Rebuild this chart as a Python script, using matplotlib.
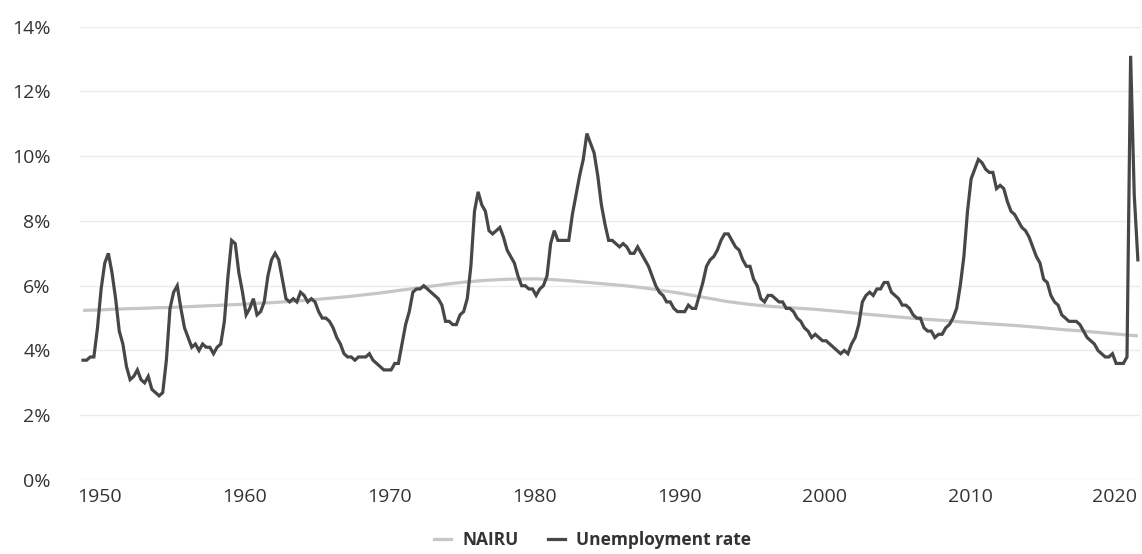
import matplotlib
matplotlib.use("Agg")
import matplotlib.pyplot as plt
import numpy as np
from matplotlib.lines import Line2D

plt.rcParams['font.family'] = ['Open Sans', 'DejaVu Sans']

# Quarterly unemployment rate (%), 1948Q1 - 2020Q4
unemployment = [
    3.7, 3.7, 3.8, 3.8,   # 1948
    4.7, 5.9, 6.7, 7.0,   # 1949
    6.4, 5.6, 4.6, 4.2,   # 1950
    3.5, 3.1, 3.2, 3.4,   # 1951
    3.1, 3.0, 3.2, 2.8,   # 1952
    2.7, 2.6, 2.7, 3.7,   # 1953
    5.3, 5.8, 6.0, 5.3,   # 1954
    4.7, 4.4, 4.1, 4.2,   # 1955
    4.0, 4.2, 4.1, 4.1,   # 1956
    3.9, 4.1, 4.2, 4.9,   # 1957
    6.3, 7.4, 7.3, 6.4,   # 1958
    5.8, 5.1, 5.3, 5.6,   # 1959
    5.1, 5.2, 5.5, 6.3,   # 1960
    6.8, 7.0, 6.8, 6.2,   # 1961
    5.6, 5.5, 5.6, 5.5,   # 1962
    5.8, 5.7, 5.5, 5.6,   # 1963
    5.5, 5.2, 5.0, 5.0,   # 1964
    4.9, 4.7, 4.4, 4.2,   # 1965
    3.9, 3.8, 3.8, 3.7,   # 1966
    3.8, 3.8, 3.8, 3.9,   # 1967
    3.7, 3.6, 3.5, 3.4,   # 1968
    3.4, 3.4, 3.6, 3.6,   # 1969
    4.2, 4.8, 5.2, 5.8,   # 1970
    5.9, 5.9, 6.0, 5.9,   # 1971
    5.8, 5.7, 5.6, 5.4,   # 1972
    4.9, 4.9, 4.8, 4.8,   # 1973
    5.1, 5.2, 5.6, 6.6,   # 1974
    8.3, 8.9, 8.5, 8.3,   # 1975
    7.7, 7.6, 7.7, 7.8,   # 1976
    7.5, 7.1, 6.9, 6.7,   # 1977
    6.3, 6.0, 6.0, 5.9,   # 1978
    5.9, 5.7, 5.9, 6.0,   # 1979
    6.3, 7.3, 7.7, 7.4,   # 1980
    7.4, 7.4, 7.4, 8.2,   # 1981
    8.8, 9.4, 9.9, 10.7,  # 1982
    10.4, 10.1, 9.4, 8.5, # 1983
    7.9, 7.4, 7.4, 7.3,   # 1984
    7.2, 7.3, 7.2, 7.0,   # 1985
    7.0, 7.2, 7.0, 6.8,   # 1986
    6.6, 6.3, 6.0, 5.8,   # 1987
    5.7, 5.5, 5.5, 5.3,   # 1988
    5.2, 5.2, 5.2, 5.4,   # 1989
    5.3, 5.3, 5.7, 6.1,   # 1990
    6.6, 6.8, 6.9, 7.1,   # 1991
    7.4, 7.6, 7.6, 7.4,   # 1992
    7.2, 7.1, 6.8, 6.6,   # 1993
    6.6, 6.2, 6.0, 5.6,   # 1994
    5.5, 5.7, 5.7, 5.6,   # 1995
    5.5, 5.5, 5.3, 5.3,   # 1996
    5.2, 5.0, 4.9, 4.7,   # 1997
    4.6, 4.4, 4.5, 4.4,   # 1998
    4.3, 4.3, 4.2, 4.1,   # 1999
    4.0, 3.9, 4.0, 3.9,   # 2000
    4.2, 4.4, 4.8, 5.5,   # 2001
    5.7, 5.8, 5.7, 5.9,   # 2002
    5.9, 6.1, 6.1, 5.8,   # 2003
    5.7, 5.6, 5.4, 5.4,   # 2004
    5.3, 5.1, 5.0, 5.0,   # 2005
    4.7, 4.6, 4.6, 4.4,   # 2006
    4.5, 4.5, 4.7, 4.8,   # 2007
    5.0, 5.3, 6.0, 6.9,   # 2008
    8.3, 9.3, 9.6, 9.9,   # 2009
    9.8, 9.6, 9.5, 9.5,   # 2010
    9.0, 9.1, 9.0, 8.6,   # 2011
    8.3, 8.2, 8.0, 7.8,   # 2012
    7.7, 7.5, 7.2, 6.9,   # 2013
    6.7, 6.2, 6.1, 5.7,   # 2014
    5.5, 5.4, 5.1, 5.0,   # 2015
    4.9, 4.9, 4.9, 4.8,   # 2016
    4.6, 4.4, 4.3, 4.2,   # 2017
    4.0, 3.9, 3.8, 3.8,   # 2018
    3.9, 3.6, 3.6, 3.6,   # 2019
    3.8, 13.1, 8.8, 6.8,  # 2020
]

# Annual NAIRU estimate (%), 1948 - 2020
nairu = [
    5.24, 5.25, 5.27, 5.29, 5.30, 5.32, 5.33, 5.35, 5.37, 5.39,   # 1948-1957
    5.41, 5.43, 5.46, 5.48, 5.51, 5.54, 5.58, 5.62, 5.66, 5.71,   # 1958-1967
    5.76, 5.82, 5.88, 5.94, 6.00, 6.06, 6.11, 6.15, 6.18, 6.20,   # 1968-1977
    6.21, 6.21, 6.19, 6.16, 6.12, 6.08, 6.04, 6.00, 5.95, 5.89,   # 1978-1987
    5.82, 5.75, 5.67, 5.59, 5.51, 5.45, 5.40, 5.36, 5.33, 5.30,   # 1988-1997
    5.27, 5.23, 5.19, 5.14, 5.10, 5.06, 5.02, 4.98, 4.95, 4.92,   # 1998-2007
    4.88, 4.85, 4.82, 4.79, 4.76, 4.72, 4.68, 4.64, 4.61, 4.57,   # 2008-2017
    4.53, 4.49, 4.45,                                              # 2018-2020
]

tick_years = [1950, 1960, 1970, 1980, 1990, 2000, 2010, 2020]
y_ticks = [0, 2, 4, 6, 8, 10, 12, 14]

start_year = 1948
end_pos = 2020.75
unemp_x = start_year + np.arange(len(unemployment)) / 4.0
nairu_x = np.linspace(start_year, end_pos, len(nairu))

W, H = 1142, 554
fig = plt.figure(figsize=(W / 100, H / 100), dpi=100)
ax = fig.add_axes([80 / W, 74 / H, 1060 / W, 453.3 / H])

dark = '#474747'
light = '#c6c6c6'

ax.plot(nairu_x, nairu, color=light, lw=2.3, solid_capstyle='butt', zorder=2)
ax.plot(unemp_x, unemployment, color=dark, lw=2.3, solid_joinstyle='miter', zorder=3)

px_per_year = 14.5
ax.set_xlim(start_year - 3 / px_per_year, start_year + 1057 / px_per_year)
ax.set_ylim(0, 14)

label_offset = 0.83
ax.set_xticks([y - label_offset for y in tick_years])
ax.set_xticklabels([str(y) for y in tick_years])
ax.set_yticks(y_ticks)
ax.set_yticklabels([f"{v}%" for v in y_ticks])

ax.grid(axis='y', color='#ebebeb', lw=1.0)
ax.set_axisbelow(True)
for s in ax.spines.values():
    s.set_visible(False)
ax.tick_params(axis='both', length=0, labelsize=14, labelcolor='#333333')
ax.tick_params(axis='x', pad=6)
ax.tick_params(axis='y', pad=21)

handles = [Line2D([], [], color=light, lw=2.3),
           Line2D([], [], color=dark, lw=2.3)]
leg = fig.legend(handles, ['NAIRU', 'Unemployment rate'], loc='center',
                 bbox_to_anchor=(592.5 / W, 14 / H), ncol=2, frameon=False,
                 handlelength=0.98, handletextpad=0.63, columnspacing=1.67,
                 borderpad=0, borderaxespad=0,
                 prop={'size': 12.5, 'weight': 'bold'})
for t in leg.get_texts():
    t.set_color('#333333')

fig.savefig('out.png', dpi=100)
